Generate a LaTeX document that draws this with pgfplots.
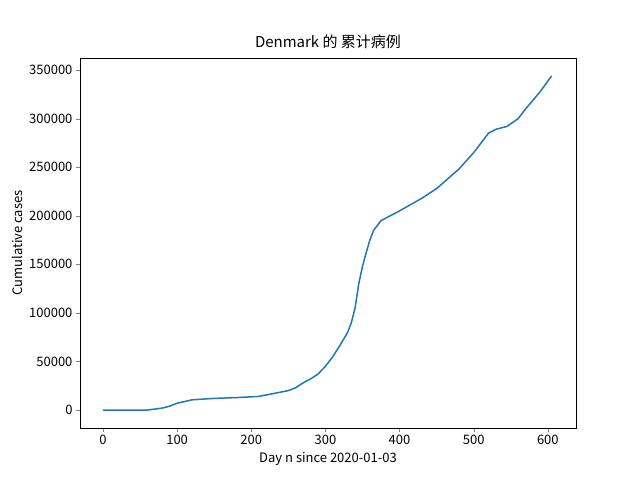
\documentclass[border=0pt]{standalone}
\usepackage{pgfplots}
\pgfplotsset{compat=1.18}
\usepackage{fontspec}
\setmainfont{Noto Sans CJK SC}
\begin{document}
\begin{tikzpicture}
\path[use as bounding box] (-80pt,-52pt) rectangle (560pt,428pt);
\begin{axis}[at={(0pt,0pt)},anchor=south west,scale only axis,width=496pt,height=370pt,
xmin=-31,xmax=638,ymin=-18500,ymax=362400,
xtick={0,100,200,300,400,500,600},
ytick={0,50000,100000,150000,200000,250000,300000,350000},
scaled y ticks=false,
/pgf/number format/assume math mode=true,
yticklabel style={/pgf/number format/fixed,/pgf/number format/1000 sep={}},
tick label style={font=\fontsize{13}{15}\selectfont},
label style={font=\fontsize{13}{15}\selectfont},
title style={font=\fontsize{15}{18}\selectfont},
title={Denmark 的 累计病例},
xlabel={Day n since 2020-01-03},
ylabel={Cumulative cases},
tick align=outside, major tick length=4pt,
xtick pos=bottom, ytick pos=left]
\addplot[color={rgb,255:red,31;green,119;blue,180},line width=1.5pt] coordinates {
(0,0)(60,0)(65,500)(80,2000)(90,4000)(100,7000)(120,10500)(150,12000)(180,12800)(210,14000)(230,17000)(250,20000)(260,23000)(270,28000)(280,32000)(290,37000)(300,45000)(310,55000)(320,67000)(330,80000)(335,90000)(340,105000)(345,130000)(350,148000)(355,162000)(360,175000)(365,185000)(375,195000)(400,205000)(430,218000)(450,228000)(480,248000)(500,265000)(520,285000)(530,289000)(545,292000)(560,300000)(570,310000)(590,328000)(605,344000)};
\end{axis}
\end{tikzpicture}
\end{document}
